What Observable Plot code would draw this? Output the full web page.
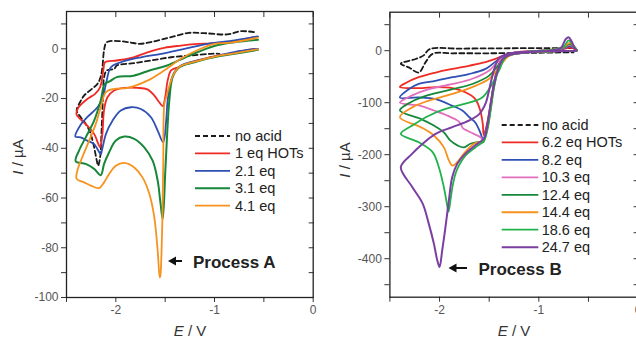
<!DOCTYPE html>
<html>
<head>
<meta charset="utf-8">
<script src="https://cdn.jsdelivr.net/npm/d3@7"></script>
<script src="https://cdn.jsdelivr.net/npm/@observablehq/plot@0.6"></script>
<style>
  html, body { margin: 0; padding: 0; background: #fff; overflow: hidden; }
  #wrap { position: relative; width: 636px; height: 341px; overflow: hidden; }
  #wrap svg { position: absolute; top: 0; }
</style>
</head>
<body>
<div id="wrap"></div>
<script>
// ---------------- LEFT PANEL DATA (E / V, I / µA) ----------------
const leftLabels = ["no acid", "1 eq HOTs", "2.1 eq", "3.1 eq", "4.1 eq"];
const leftNoAcid = [[-0.60,6.7],[-0.73,7.1],[-0.87,5.8],[-1.11,6.3],[-1.26,6.4],[-1.44,4.7],[-1.645,2.7],[-1.76,2.0],[-1.86,2.6],[-1.97,3.1],[-2.07,3.0],[-2.10,2.3],[-2.12,-0.7],[-2.136,-7.4],[-2.153,-11.1],[-2.186,-14.1],[-2.254,-16.5],[-2.322,-18.8],[-2.363,-21.5],[-2.397,-24.8],[-2.356,-27.5],[-2.305,-30.2],[-2.261,-33.6],[-2.227,-38.3],[-2.193,-45.0],[-2.18,-47.0],[-2.159,-43.6],[-2.146,-34.2],[-2.132,-20.8],[-2.119,-11.4],[-2.092,-8.7],[-2.017,-8.1],[-1.99,-6.7],[-1.82,-5.8],[-1.645,-4.7],[-1.44,-3.4],[-1.24,-2.7],[-1.04,-2.0],[-0.95,-2.0]];
const left1eq = [[-0.59,0],[-0.66,-0.4],[-0.86,-2.0],[-1.07,-3.6],[-1.24,-5.4],[-1.37,-7.4],[-1.44,-8.7],[-1.475,-12.8],[-1.50,-19.5],[-1.525,-23.0],[-1.56,-21.5],[-1.61,-18.8],[-1.68,-16.3],[-1.78,-15.7],[-1.915,-15.7],[-2.017,-16.8],[-2.085,-19.5],[-2.12,-24.8],[-2.136,-34.2],[-2.16,-39.6],[-2.18,-38.0],[-2.22,-34.2],[-2.29,-30.9],[-2.39,-27.0],[-2.40,-26.0],[-2.378,-23.5],[-2.29,-20.2],[-2.21,-18.1],[-2.16,-15.5],[-2.125,-8.1],[-2.11,-5.4],[-1.99,-4.7],[-1.82,-3.4],[-1.68,-1.4],[-1.51,0.4],[-1.34,1.3],[-1.17,2.0],[-1.04,2.2],[-0.835,2.9],[-0.60,4.7]];
const left2eq = [[-0.56,0],[-0.80,-1.3],[-1.00,-3.1],[-1.17,-4.7],[-1.34,-6.7],[-1.407,-9.4],[-1.44,-12.8],[-1.475,-20.8],[-1.49,-28.9],[-1.52,-37.6],[-1.576,-32.9],[-1.644,-27.5],[-1.746,-24.2],[-1.847,-23.5],[-1.95,-24.8],[-2.034,-28.9],[-2.10,-34.2],[-2.142,-41.0],[-2.153,-42.3],[-2.22,-38.3],[-2.29,-36.9],[-2.356,-35.6],[-2.41,-35.3],[-2.356,-30.5],[-2.29,-27.5],[-2.186,-23.5],[-2.136,-20.1],[-2.10,-14.1],[-2.05,-7.4],[-1.95,-5.4],[-1.746,-3.4],[-1.54,-2.0],[-1.305,0],[-1.068,2.0],[-0.797,3.4],[-0.56,5.0]];
const left3eq = [[-0.56,-0.4],[-0.797,-2.0],[-1.034,-3.6],[-1.203,-5.4],[-1.356,-7.4],[-1.424,-11.4],[-1.458,-20.8],[-1.48,-34.2],[-1.50,-50.3],[-1.525,-68.5],[-1.55,-61.1],[-1.576,-53.0],[-1.627,-45.0],[-1.712,-39.6],[-1.814,-36.2],[-1.915,-35.3],[-2.0,-36.9],[-2.068,-41.6],[-2.119,-46.3],[-2.153,-50.8],[-2.22,-48.3],[-2.305,-46.3],[-2.407,-45.2],[-2.373,-40.9],[-2.305,-35.6],[-2.22,-28.9],[-2.153,-20.8],[-2.112,-14.1],[-2.058,-13.0],[-1.99,-11.4],[-1.82,-10.8],[-1.644,-8.5],[-1.48,-6.7],[-1.30,-3.5],[-1.18,-1.5],[-0.966,1.5],[-0.56,3.6]];
const left4eq = [[-0.56,-0.2],[-0.80,-1.8],[-1.03,-3.4],[-1.20,-5.2],[-1.356,-7.2],[-1.424,-11.0],[-1.458,-15.0],[-1.49,-19.5],[-1.508,-22.0],[-1.52,-47.7],[-1.532,-74.5],[-1.549,-91.3],[-1.555,-92.0],[-1.576,-81.2],[-1.61,-67.8],[-1.66,-58.4],[-1.73,-51.7],[-1.814,-47.7],[-1.915,-45.9],[-2.0,-47.0],[-2.068,-50.3],[-2.119,-53.7],[-2.17,-56.0],[-2.254,-55.0],[-2.322,-53.7],[-2.397,-52.3],[-2.39,-49.0],[-2.34,-43.6],[-2.27,-36.9],[-2.203,-30.2],[-2.153,-23.5],[-2.10,-17.4],[-2.017,-16.1],[-1.88,-15.7],[-1.68,-12.8],[-1.51,-8.7],[-1.34,-4.0],[-1.17,-0.5],[-1.00,2.0],[-0.835,2.5],[-0.56,4.5]];
const leftXTicks = [-2.5, -2, -1.5, -1, -0.5, 0];
const leftYTicks = [-100, -90, -80, -70, -60, -50, -40, -30, -20, -10, 0, 10];

// ---------------- RIGHT PANEL DATA ----------------
const rightLabels = ["no acid", "6.2 eq HOTs", "8.2 eq", "10.3 eq", "12.4 eq", "14.4 eq", "18.6 eq", "24.7 eq"];
const rightNoAcid = [[-0.65,5],[-1.0,5],[-1.4,4.5],[-1.8,4],[-2.1,3],[-2.16,-9],[-2.24,-16],[-2.39,-25],[-2.31,-32],[-2.21,-42],[-2.14,-22],[-2.07,-6],[-1.87,-5],[-1.5,-5],[-1.0,-4],[-0.65,-3]];
const right6eq = [[-0.62,0],[-0.8,-1],[-1.0,-2],[-1.2,-4],[-1.3,-8],[-1.37,-15],[-1.41,-30],[-1.45,-60],[-1.48,-95],[-1.51,-130],[-1.54,-155],[-1.555,-162],[-1.565,-140],[-1.59,-115],[-1.64,-93],[-1.74,-80],[-1.87,-72],[-2.04,-70],[-2.21,-72],[-2.40,-70],[-2.34,-62],[-2.21,-51],[-2.04,-42],[-1.87,-35],[-1.705,-29],[-1.537,-22],[-1.40,-13],[-1.27,-4.5],[-1.1,-1],[-0.9,1],[-0.75,3],[-0.69,6],[-0.65,4],[-0.62,2]];
const right8eq = [[-0.62,0],[-0.8,-1],[-1.0,-2],[-1.2,-4.5],[-1.3,-8],[-1.37,-15],[-1.41,-32],[-1.45,-62],[-1.48,-98],[-1.51,-135],[-1.54,-160],[-1.56,-172],[-1.59,-157],[-1.64,-138],[-1.70,-128],[-1.77,-115],[-1.87,-106],[-2.04,-93],[-2.21,-90],[-2.40,-90],[-2.31,-74],[-2.21,-64],[-2.04,-58],[-1.87,-51],[-1.705,-45],[-1.537,-35],[-1.40,-16],[-1.30,-6],[-1.1,-1.5],[-0.9,1],[-0.75,4],[-0.69,9],[-0.65,6],[-0.62,2]];
const right10eq = [[-0.62,0],[-0.8,-1],[-1.0,-2],[-1.2,-4.5],[-1.3,-8],[-1.37,-16],[-1.41,-33],[-1.45,-64],[-1.48,-100],[-1.51,-137],[-1.54,-162],[-1.56,-172],[-1.59,-166],[-1.654,-160],[-1.72,-154],[-1.76,-150],[-1.79,-140],[-1.82,-134],[-1.92,-125],[-2.057,-115],[-2.19,-106],[-2.40,-100],[-2.275,-86],[-2.108,-74],[-1.87,-64],[-1.67,-54],[-1.50,-38],[-1.40,-19],[-1.30,-7],[-1.1,-1.5],[-0.9,1],[-0.75,5],[-0.69,11],[-0.65,7],[-0.62,2]];
const right12eq = [[-0.62,0],[-0.8,-1],[-1.0,-2],[-1.2,-5],[-1.3,-9],[-1.37,-17],[-1.41,-35],[-1.45,-66],[-1.48,-103],[-1.51,-140],[-1.54,-166],[-1.56,-176],[-1.62,-176],[-1.69,-179],[-1.755,-186],[-1.82,-182],[-1.89,-173],[-1.956,-157],[-2.057,-144],[-2.19,-131],[-2.40,-115],[-2.29,-99],[-2.124,-86],[-1.87,-74],[-1.67,-64],[-1.50,-48],[-1.40,-26],[-1.30,-8],[-1.1,-2],[-0.9,1],[-0.75,6],[-0.69,13],[-0.65,8],[-0.62,2]];
const right14eq = [[-0.62,0],[-0.8,-1],[-1.0,-2],[-1.2,-5],[-1.3,-9],[-1.37,-17],[-1.41,-36],[-1.45,-68],[-1.48,-105],[-1.51,-142],[-1.54,-166],[-1.56,-173],[-1.654,-179],[-1.755,-198],[-1.82,-214],[-1.87,-221],[-1.906,-211],[-1.956,-186],[-2.057,-163],[-2.19,-147],[-2.40,-128],[-2.275,-109],[-2.108,-96],[-1.87,-83],[-1.67,-70],[-1.50,-54],[-1.40,-32],[-1.30,-10],[-1.1,-2],[-0.9,1],[-0.75,7],[-0.69,15],[-0.65,9],[-0.62,2]];
const right18eq = [[-0.62,0],[-0.8,-1],[-1.0,-2],[-1.2,-5],[-1.3,-9],[-1.37,-18],[-1.41,-38],[-1.45,-70],[-1.48,-108],[-1.51,-145],[-1.54,-168],[-1.56,-175],[-1.64,-186],[-1.74,-202],[-1.805,-221],[-1.84,-237],[-1.87,-262],[-1.89,-288],[-1.91,-310],[-1.92,-301],[-1.957,-262],[-2.007,-224],[-2.07,-195],[-2.21,-176],[-2.39,-160],[-2.275,-144],[-2.108,-125],[-1.94,-112],[-1.74,-102],[-1.57,-90],[-1.47,-64],[-1.40,-38],[-1.33,-12],[-1.1,-2],[-0.9,1],[-0.75,8],[-0.70,20],[-0.66,12],[-0.62,2]];
const right24eq = [[-0.62,0],[-0.85,-1],[-1.02,-2],[-1.2,-5],[-1.29,-8],[-1.36,-15],[-1.40,-30],[-1.44,-55],[-1.47,-85],[-1.50,-120],[-1.53,-155],[-1.55,-168],[-1.64,-182],[-1.74,-198],[-1.82,-217],[-1.872,-243],[-1.906,-288],[-1.94,-339],[-1.973,-384],[-2.0,-416],[-2.023,-403],[-2.057,-371],[-2.108,-333],[-2.17,-294],[-2.275,-262],[-2.39,-224],[-2.275,-198],[-2.17,-179],[-2.04,-160],[-1.872,-147],[-1.70,-134],[-1.60,-122],[-1.537,-102],[-1.50,-75],[-1.47,-50],[-1.44,-30],[-1.40,-14],[-1.3,-6],[-1.1,-2],[-0.9,0],[-0.78,5],[-0.73,22],[-0.70,26],[-0.67,18],[-0.64,5],[-0.62,1]];
const rightXTicks = [-2.5, -2, -1.5, -1, -0.5, 0];
const rightYTicks = [-450, -400, -350, -300, -250, -200, -150, -100, -50, 0, 50];

// ---------------- STYLES ----------------
const leftStyles = [
  {stroke: "#1a1a1a", dash: "5,3", width: 1.8},
  {stroke: "#ee2b25", width: 1.8},
  {stroke: "#2e4fb3", width: 1.8},
  {stroke: "#17873a", width: 2.0},
  {stroke: "#f7921e", width: 1.8}
];
const rightStyles = [
  {stroke: "#1a1a1a", dash: "5,3", width: 1.8},
  {stroke: "#ee2b25", width: 1.8},
  {stroke: "#2e4fb3", width: 1.8},
  {stroke: "#e26fbd", width: 1.8},
  {stroke: "#17873a", width: 1.8},
  {stroke: "#f7921e", width: 1.8},
  {stroke: "#22b24c", width: 1.8},
  {stroke: "#7b3fa1", width: 2.0}
];

const FONT = "'Liberation Sans', Arial, Helvetica, sans-serif";

function toRows(arr) { return arr.map(([E, I], i) => ({E, I, i})); }

function lineMarks(seriesList, styles) {
  return seriesList.map((s, k) => Plot.line(toRows(s), {
    x: "E", y: "I", stroke: styles[k].stroke, strokeWidth: styles[k].width,
    strokeDasharray: styles[k].dash || null, curve: "catmull-rom"
  }));
}

function makePanel(o) {
  return Plot.plot({
    width: 320, height: 341,
    marginLeft: o.ml, marginRight: o.mr, marginTop: o.mt, marginBottom: o.mb,
    x: {domain: [-2.5, 0]},
    y: {domain: o.ydomain},
    style: {fontFamily: FONT, fontSize: "12px", color: "#555", background: "transparent", overflow: "visible"},
    marks: [
      Plot.axisX({ticks: o.xticks, tickFormat: d => Number.isInteger(d) ? String(d) : "", tickSize: 5, tickPadding: 3, label: null, stroke: "#333", fill: "#555"}),
      Plot.axisX({anchor: "top", ticks: o.xticks, tickFormat: () => "", tickSize: 5, dy: 5, label: null, stroke: "#333"}),
      Plot.axisY({ticks: o.yticks, tickFormat: d => d % o.ymajor === 0 ? String(d) : "", tickSize: 5, tickPadding: 3, label: null, stroke: "#333", fill: "#555"}),
      Plot.axisY({anchor: "right", ticks: o.yticks, tickFormat: () => "", tickSize: 5, dx: -5, label: null, stroke: "#333"}),
      ...lineMarks(o.series, o.styles),
      Plot.frame({stroke: "#222", strokeWidth: 1.3})
    ]
  });
}

function decorate(svg, o) {
  const g = d3.select(svg).append("g").attr("font-family", FONT).attr("text-anchor", "start");
  // y label
  const yl = g.append("text").attr("transform", `translate(${o.ylab[0]},${o.ylab[1]}) rotate(-90)`)
    .attr("text-anchor", "middle").attr("font-size", 15).attr("fill", "#333");
  yl.append("tspan").attr("font-style", "italic").text("I");
  yl.append("tspan").text(" / µA");
  // x label
  const xl = g.append("text").attr("x", o.xlab[0]).attr("y", o.xlab[1])
    .attr("text-anchor", "middle").attr("font-size", 15).attr("fill", "#333");
  xl.append("tspan").attr("font-style", "italic").text("E");
  xl.append("tspan").text(" / V");
  // legend
  o.labels.forEach((lab, k) => {
    const y = o.leg.y0 + k * o.leg.dy;
    const st = o.styles[k];
    g.append("line").attr("x1", o.leg.x1).attr("x2", o.leg.x2).attr("y1", y).attr("y2", y)
      .attr("stroke", st.stroke).attr("stroke-width", st.width)
      .attr("stroke-dasharray", st.dash || null);
    g.append("text").attr("x", o.leg.tx).attr("y", y + 5).attr("font-size", 14.5)
      .attr("text-anchor", "start").attr("fill", "#222").text(lab);
  });
  // annotation arrow + text
  const a = o.arrow;
  g.append("line").attr("x1", a.tip + 6).attr("x2", a.end).attr("y1", a.y).attr("y2", a.y)
    .attr("stroke", "#111").attr("stroke-width", 2);
  g.append("path").attr("d", `M${a.tip},${a.y} L${a.tip + 8},${a.y - 4.5} L${a.tip + 8},${a.y + 4.5} Z`).attr("fill", "#111");
  g.append("text").attr("x", a.tx).attr("y", a.ty).attr("font-size", 17).attr("font-weight", "bold")
    .attr("text-anchor", "start").attr("fill", "#222").text(a.text);
}

const wrap = document.getElementById("wrap");

const leftOpts = {
  ml: 66, mr: 7.3, mt: 11, mb: 44, ydomain: [-100, 15], ymajor: 20,
  xticks: leftXTicks, yticks: leftYTicks,
  series: [leftNoAcid, left1eq, left2eq, left3eq, left4eq], styles: leftStyles, labels: leftLabels,
  ylab: [23, 157], xlab: [190, 336],
  leg: {x1: 195, x2: 230, tx: 235, y0: 136, dy: 17.4},
  arrow: {tip: 168, end: 182, y: 261, tx: 193, ty: 268, text: "Process A"}
};
const leftSvg = makePanel(leftOpts);
leftSvg.style.left = "0px";
wrap.appendChild(leftSvg);
decorate(leftSvg, leftOpts);

const rightOpts = {
  ml: 69.4, mr: 2.4, mt: 11.7, mb: 44.3, ydomain: [-474, 74], ymajor: 100,
  xticks: rightXTicks, yticks: rightYTicks,
  series: [rightNoAcid, right6eq, right8eq, right10eq, right12eq, right14eq, right18eq, right24eq], styles: rightStyles, labels: rightLabels,
  ylab: [30, 160], xlab: [194, 336],
  leg: {x1: 181.7, x2: 218.3, tx: 221.7, y0: 125, dy: 17.45},
  arrow: {tip: 128.5, end: 147, y: 268, tx: 158.5, ty: 275, text: "Process B"}
};
const rightSvg = makePanel(rightOpts);
rightSvg.style.left = "320px";
wrap.appendChild(rightSvg);
decorate(rightSvg, rightOpts);
</script>
</body>
</html>
